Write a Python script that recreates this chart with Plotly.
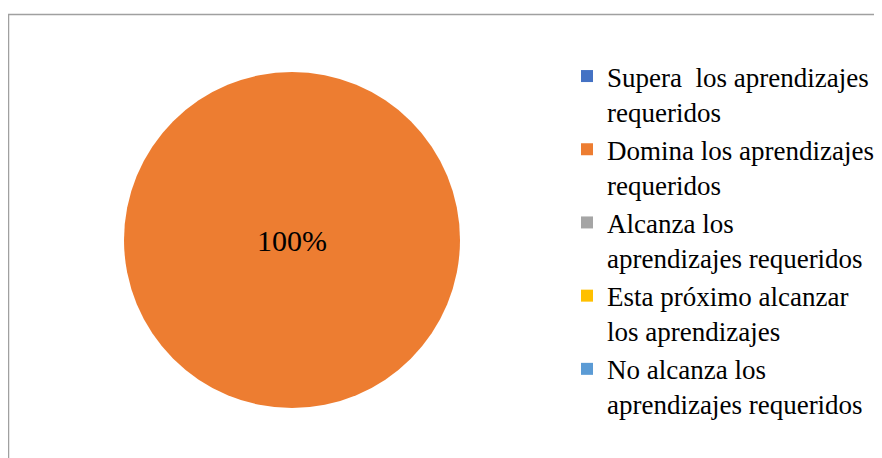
import plotly.graph_objects as go

W, H = 882, 458

categories = [
    "Supera  los aprendizajes<br>requeridos",
    "Domina los aprendizajes<br>requeridos",
    "Alcanza los<br>aprendizajes requeridos",
    "Esta próximo alcanzar<br>los aprendizajes",
    "No alcanza los<br>aprendizajes requeridos",
]
values = [0, 100, 0, 0, 0]
colors = ["#4472C4", "#ED7D31", "#A5A5A5", "#FFC000", "#5B9BD5"]

FONT = "Liberation Serif, Times New Roman, serif"

# pie geometry in figure pixels (page has an 8px body offset)
cx, cy, r = 284, 232, 168
dom_x = [(cx - r) / W, (cx + r) / W]
dom_y = [(H - (cy + r)) / H, (H - (cy - r)) / H]

fig = go.Figure(go.Pie(
    labels=categories, values=values,
    marker=dict(colors=colors, line=dict(width=0)),
    domain=dict(x=dom_x, y=dom_y),
    sort=False, direction="clockwise", rotation=0,
    texttemplate="%{percent:.0%}",
    textposition="inside",
    insidetextfont=dict(family=FONT, size=30, color="black"),
    hoverinfo="label+percent",
))

fig.update_layout(
    width=W, height=H,
    margin=dict(l=0, r=0, t=0, b=0),
    paper_bgcolor="white",
    plot_bgcolor="white",
    font=dict(family=FONT, color="black"),
    showlegend=True,
    legend=dict(
        x=559 / W, xanchor="left",
        y=1 - 44 / H, yanchor="top",
        font=dict(family=FONT, size=27, color="black"),
        valign="top",
        bgcolor="rgba(0,0,0,0)",
    ),
    shapes=[dict(
        type="rect", xref="paper", yref="paper",
        x0=0.5 / W, x1=1.02, y0=-0.02, y1=1 - 6.5 / H,
        line=dict(color="#A0A0A0", width=1.5),
        fillcolor="rgba(0,0,0,0)", layer="below",
    )],
)

fig.write_html("out.html")
